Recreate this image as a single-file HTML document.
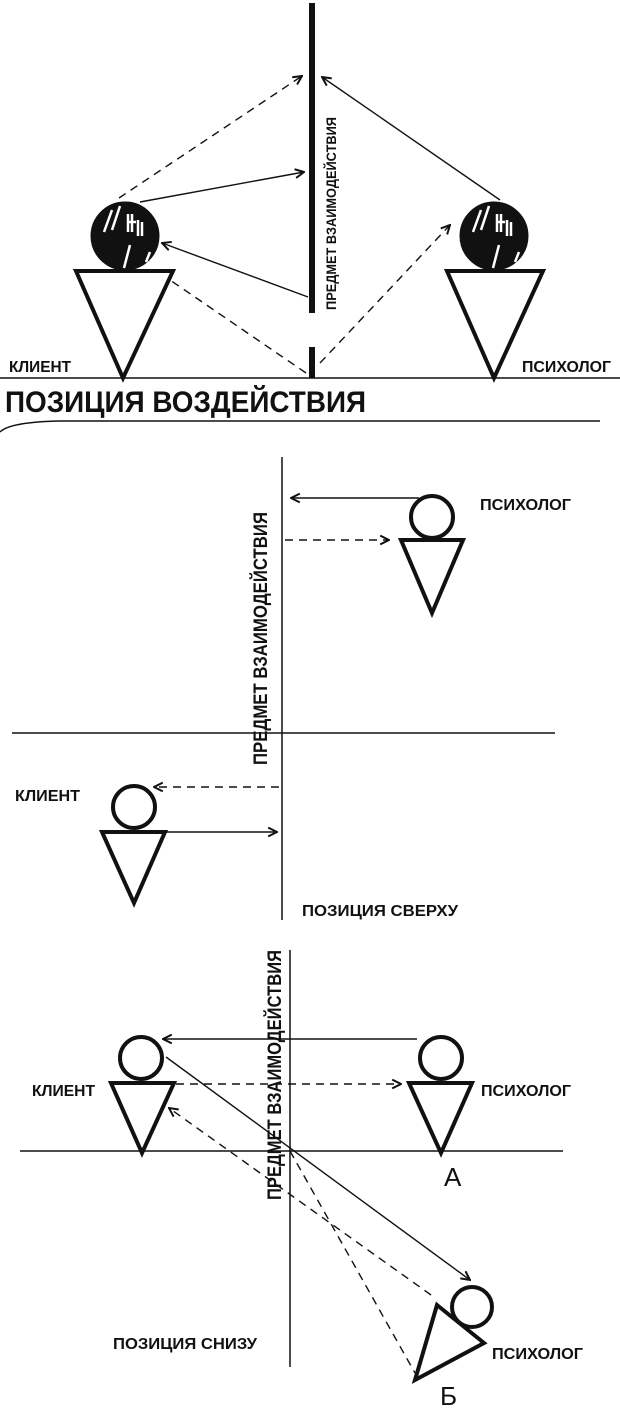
<!DOCTYPE html>
<html><head><meta charset="utf-8"><style>html,body{margin:0;padding:0;background:#fff}svg{display:block}text{font-family:"Liberation Sans",sans-serif;font-weight:bold;fill:#111}</style></head>
<body>
<svg width="620" height="1413" viewBox="0 0 620 1413" xmlns="http://www.w3.org/2000/svg">
<defs>
<marker id="ah" viewBox="0 0 10 10" refX="9" refY="5" markerWidth="11" markerHeight="11" orient="auto" markerUnits="userSpaceOnUse"><path d="M1,1 L9,5 L1,9" fill="none" stroke="#111" stroke-width="1.8"/></marker>
</defs>
<g stroke="#111" fill="none">
<!-- TOP -->
<rect x="309" y="3" width="6" height="310" fill="#111" stroke="none"/>
<rect x="309" y="347" width="6" height="31" fill="#111" stroke="none"/>
<line x1="0" y1="378" x2="620" y2="378" stroke-width="1.5"/>
<polygon points="76,271 173,271 123,378" stroke-width="4"/>
<polygon points="447,271 543,271 494,378" stroke-width="4"/>
<circle cx="125" cy="236" r="34" fill="#111"/>
<circle cx="494" cy="236" r="34" fill="#111"/>
<g stroke="#fff" stroke-width="2.5">
<path d="M112,210 L104,232 M120,206 L112,230 M128,214 L128,232 M132,214 L132,232 M128,222 L136,222 M138,220 L138,236 M142,222 L142,236 M150,252 L146,262 M130,245 L124,268"/>
<path d="M481,210 L473,232 M489,206 L481,230 M497,214 L497,232 M501,214 L501,232 M497,222 L505,222 M507,220 L507,236 M511,222 L511,236 M519,252 L515,262 M499,245 L493,268"/>
</g>
<line x1="119" y1="198" x2="302" y2="76" stroke-width="1.4" stroke-dasharray="8,6" marker-end="url(#ah)"/>
<line x1="140" y1="202" x2="304" y2="172" stroke-width="1.4" marker-end="url(#ah)"/>
<line x1="308" y1="297" x2="162" y2="243" stroke-width="1.4" marker-end="url(#ah)"/>
<line x1="306" y1="373" x2="170" y2="280" stroke-width="1.4" stroke-dasharray="8,6"/>
<line x1="320" y1="363" x2="450" y2="225" stroke-width="1.4" stroke-dasharray="8,6" marker-end="url(#ah)"/>
<line x1="500" y1="200" x2="322" y2="77" stroke-width="1.4" marker-end="url(#ah)"/>
<path d="M0,432 Q10,422 60,421 L600,421" stroke-width="1.5"/>

<!-- MIDDLE -->
<line x1="282" y1="457" x2="282" y2="920" stroke-width="1.5"/>
<line x1="12" y1="733" x2="555" y2="733" stroke-width="1.5"/>
<circle cx="432" cy="517" r="21" stroke-width="4"/>
<polygon points="401,540 463,540 432,613" stroke-width="4"/>
<line x1="419" y1="498" x2="291" y2="498" stroke-width="1.4" marker-end="url(#ah)"/>
<line x1="285" y1="540" x2="389" y2="540" stroke-width="1.4" stroke-dasharray="8,6" marker-end="url(#ah)"/>
<circle cx="134" cy="807" r="21" stroke-width="4"/>
<polygon points="102,832 165,832 134,903" stroke-width="4"/>
<line x1="279" y1="787" x2="154" y2="787" stroke-width="1.4" stroke-dasharray="8,6" marker-end="url(#ah)"/>
<line x1="165" y1="832" x2="277" y2="832" stroke-width="1.4" marker-end="url(#ah)"/>

<!-- BOTTOM -->
<line x1="290" y1="950" x2="290" y2="1367" stroke-width="1.5"/>
<line x1="20" y1="1151" x2="563" y2="1151" stroke-width="1.5"/>
<circle cx="141" cy="1058" r="21" stroke-width="4"/>
<polygon points="111,1083 174,1083 142,1153" stroke-width="4"/>
<circle cx="441" cy="1058" r="21" stroke-width="4"/>
<polygon points="409,1083 472,1083 441,1153" stroke-width="4"/>
<line x1="417" y1="1039" x2="163" y2="1039" stroke-width="1.4" marker-end="url(#ah)"/>
<line x1="176" y1="1084" x2="401" y2="1084" stroke-width="1.4" stroke-dasharray="8,6" marker-end="url(#ah)"/>
<line x1="166" y1="1057" x2="470" y2="1280" stroke-width="1.4" marker-end="url(#ah)"/>
<line x1="431" y1="1295" x2="169" y2="1108" stroke-width="1.4" stroke-dasharray="8,6" marker-end="url(#ah)"/>
<line x1="290" y1="1151" x2="415" y2="1373" stroke-width="1.4" stroke-dasharray="8,6"/>
<circle cx="472" cy="1307" r="20" stroke-width="4"/>
<polygon points="437,1305 484,1343 415,1380" stroke-width="4"/>
</g>

<!-- TEXT -->
<text x="9" y="372" font-size="16" textLength="62" lengthAdjust="spacingAndGlyphs">КЛИЕНТ</text>
<text x="522" y="372" font-size="16" textLength="89" lengthAdjust="spacingAndGlyphs">ПСИХОЛОГ</text>
<text x="5" y="412" font-size="30" textLength="361" lengthAdjust="spacingAndGlyphs">ПОЗИЦИЯ ВОЗДЕЙСТВИЯ</text>
<text transform="translate(336,310) rotate(-90)" font-size="14" textLength="193" lengthAdjust="spacingAndGlyphs">ПРЕДМЕТ ВЗАИМОДЕЙСТВИЯ</text>

<text x="480" y="510" font-size="16" textLength="91" lengthAdjust="spacingAndGlyphs">ПСИХОЛОГ</text>
<text x="15" y="801" font-size="16" textLength="65" lengthAdjust="spacingAndGlyphs">КЛИЕНТ</text>
<text x="302" y="916" font-size="16" textLength="156" lengthAdjust="spacingAndGlyphs">ПОЗИЦИЯ СВЕРХУ</text>
<text transform="translate(267,765) rotate(-90)" font-size="19" textLength="253" lengthAdjust="spacingAndGlyphs">ПРЕДМЕТ ВЗАИМОДЕЙСТВИЯ</text>

<text x="32" y="1096" font-size="16" textLength="63" lengthAdjust="spacingAndGlyphs">КЛИЕНТ</text>
<text x="481" y="1096" font-size="16" textLength="90" lengthAdjust="spacingAndGlyphs">ПСИХОЛОГ</text>
<text x="444" y="1186" font-size="26" style="font-weight:normal">А</text>
<text x="113" y="1349" font-size="16" textLength="144" lengthAdjust="spacingAndGlyphs">ПОЗИЦИЯ СНИЗУ</text>
<text x="492" y="1359" font-size="16" textLength="91" lengthAdjust="spacingAndGlyphs">ПСИХОЛОГ</text>
<text x="440" y="1405" font-size="26" style="font-weight:normal">Б</text>
<text transform="translate(281,1200) rotate(-90)" font-size="19" textLength="250" lengthAdjust="spacingAndGlyphs">ПРЕДМЕТ ВЗАИМОДЕЙСТВИЯ</text>
</svg>
</body></html>
